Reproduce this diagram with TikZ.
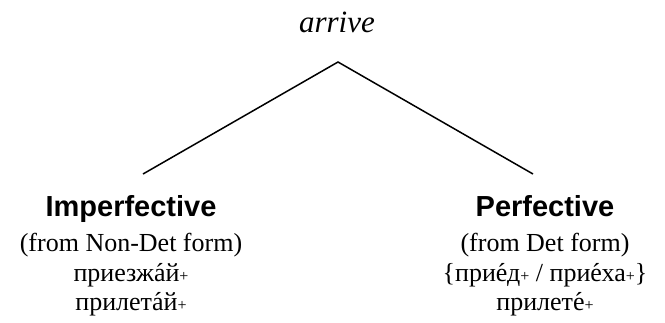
\documentclass[tikz,border=0pt]{standalone}
\usepackage{fontspec}
\setmainfont{Liberation Serif}
\newfontfamily\headfont{Liberation Sans}
\usetikzlibrary{positioning}
\newcommand\stress[1]{\accent"00B4 #1}
\newcommand\stemplus{{\fontsize{16}{16}\selectfont+}}
\tikzset{
  headlabel/.style={inner sep=0pt, anchor=base, font=\headfont\bfseries\fontsize{29}{29}\selectfont},
  formlabel/.style={inner sep=0pt, align=center, anchor=north, font=\fontsize{26}{29.5}\selectfont},
  branch/.style={line width=1.5pt}
}

\begin{document}
\begin{tikzpicture}[x=1pt, y=1pt]
			%%%%% START %%%%%
			
			\useasboundingbox (0, 0) rectangle (665, -322);
			
			\node[inner sep=0pt, anchor=base, font=\itshape\fontsize{31}{31}\selectfont] (verb) at (337, -32) {arrive};
			
			\coordinate (apex) at (338, -62);
			\coordinate (leftend) at (143, -174);
			\coordinate (rightend) at (533, -174);
			\draw[branch] (leftend) -- (apex) -- (rightend);
			
			\node[headlabel] (imp) at (131, -216) {Imperfective};
			\node[formlabel] (impform) at ([yshift=-17pt]imp.base) {(from Non-Det form)\\
				приезж\stress{а}й\stemplus\\
				прилет\stress{а}й\stemplus};
			
			\node[headlabel] (perf) at (545, -216) {Perfective};
			\node[formlabel] (perfform) at ([yshift=-17pt]perf.base) {(from Det form)\\
				\{при\stress{е}д\stemplus{} / при\stress{е}ха\stemplus\}\\
				прилет\stress{е}\stemplus};
			
			%%%%% END %%%%%
\end{tikzpicture}
\end{document}
